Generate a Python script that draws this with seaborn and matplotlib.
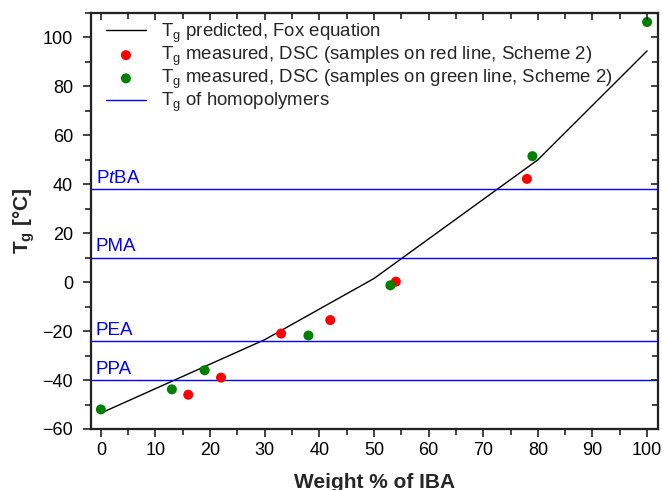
import matplotlib
matplotlib.use("Agg")
import matplotlib.pyplot as plt
import seaborn as sns
import pandas as pd
from matplotlib.ticker import MultipleLocator

# ---- data ----
fox_x = [0, 30, 50, 80, 100]
fox_y = [-53.5, -23.5, 1.5, 50.0, 94.5]

red_x = [16, 22, 33, 42, 54, 78]
red_y = [-46, -39, -21, -15.5, 0.2, 42.2]

green_x = [0, 13, 19, 38, 53, 79, 100]
green_y = [-52, -43.8, -36, -21.8, -1.3, 51.5, 106.3]

homo_names = ["P$\\it{t}$BA", "PMA", "PEA", "PPA"]
homo_tg = [38, 10, -24, -40]

sns.set_theme(style="ticks")
plt.rcParams['font.family'] = ['Liberation Sans', 'DejaVu Sans']
plt.rcParams['mathtext.fontset'] = 'custom'
plt.rcParams['mathtext.rm'] = 'Liberation Sans'
plt.rcParams['mathtext.it'] = 'Liberation Sans:italic'
plt.rcParams['mathtext.bf'] = 'Liberation Sans:bold'

fig = plt.figure(figsize=(6.62, 4.9), dpi=100)
ax = fig.add_axes([0.1375, 0.1245, 0.994 - 0.1375, 0.9735 - 0.1245])

fox_df = pd.DataFrame({"x": fox_x, "y": fox_y})
red_df = pd.DataFrame({"x": red_x, "y": red_y})
green_df = pd.DataFrame({"x": green_x, "y": green_y})

sns.lineplot(data=fox_df, x="x", y="y", ax=ax, color="black", lw=1.0,
             label="T$_\\mathrm{g}$ predicted, Fox equation")
sns.scatterplot(data=red_df, x="x", y="y", ax=ax, color="#ff0000", s=52,
                edgecolor="none", zorder=5,
                label="T$_\\mathrm{g}$ measured, DSC (samples on red line, Scheme 2)")
sns.scatterplot(data=green_df, x="x", y="y", ax=ax, color="#008000", s=52,
                edgecolor="none", zorder=5,
                label="T$_\\mathrm{g}$ measured, DSC (samples on green line, Scheme 2)")
for i, (name, tg) in enumerate(zip(homo_names, homo_tg)):
    ax.axhline(tg, color="#0000ff", lw=1.0, zorder=2,
               label="T$_\\mathrm{g}$ of homopolymers" if i == 0 else None)
    ax.text(-0.9, tg + 0.9, name, color="#0000ff", fontsize=13.5, ha="left", va="bottom")

ax.set_xlim(-1.8, 102)
ax.set_ylim(-60, 110)
ax.xaxis.set_major_locator(MultipleLocator(10))
ax.xaxis.set_minor_locator(MultipleLocator(5))
ax.yaxis.set_major_locator(MultipleLocator(20))
ax.yaxis.set_minor_locator(MultipleLocator(10))
ax.tick_params(which="both", direction="out", colors="#222222", labelcolor="black",
               labelsize=13, width=1.2)
ax.tick_params(which="major", length=6)
ax.tick_params(which="minor", length=4)
ax.tick_params(axis="y", which="major", pad=7)
ax.set_yticks([-60, -40, -20, 0, 20, 40, 60, 80, 100])

# mirrored inward ticks on top and right
axt = ax.twiny()
axt.set_xlim(ax.get_xlim())
axt.xaxis.set_major_locator(MultipleLocator(10))
axt.xaxis.set_minor_locator(MultipleLocator(5))
axt.tick_params(which="both", direction="in", labeltop=False, width=1.2, colors="#222222")
axt.tick_params(which="major", length=5)
axt.tick_params(which="minor", length=4)
axr = ax.twinx()
axr.set_ylim(ax.get_ylim())
axr.yaxis.set_major_locator(MultipleLocator(20))
axr.yaxis.set_minor_locator(MultipleLocator(10))
axr.tick_params(which="both", direction="in", labelright=False, width=1.2, colors="#222222")
axr.tick_params(which="major", length=5)
axr.tick_params(which="minor", length=4)

for a in (ax, axt, axr):
    for sp in a.spines.values():
        sp.set_visible(True)
        sp.set_linewidth(1.5)
        sp.set_color("#222222")

ax.set_xlabel("Weight % of IBA", fontsize=15, fontweight="bold", labelpad=10)
ax.set_ylabel("T$_\\mathbf{g}$ [°C]", fontsize=15, fontweight="bold", labelpad=4)

ax.legend(loc="upper left", bbox_to_anchor=(0.0, 1.015), frameon=False,
          fontsize=13.4, handlelength=2.15, handletextpad=0.8, labelspacing=0.0,
          borderaxespad=0.4)

fig.savefig("out.png", dpi=100)
